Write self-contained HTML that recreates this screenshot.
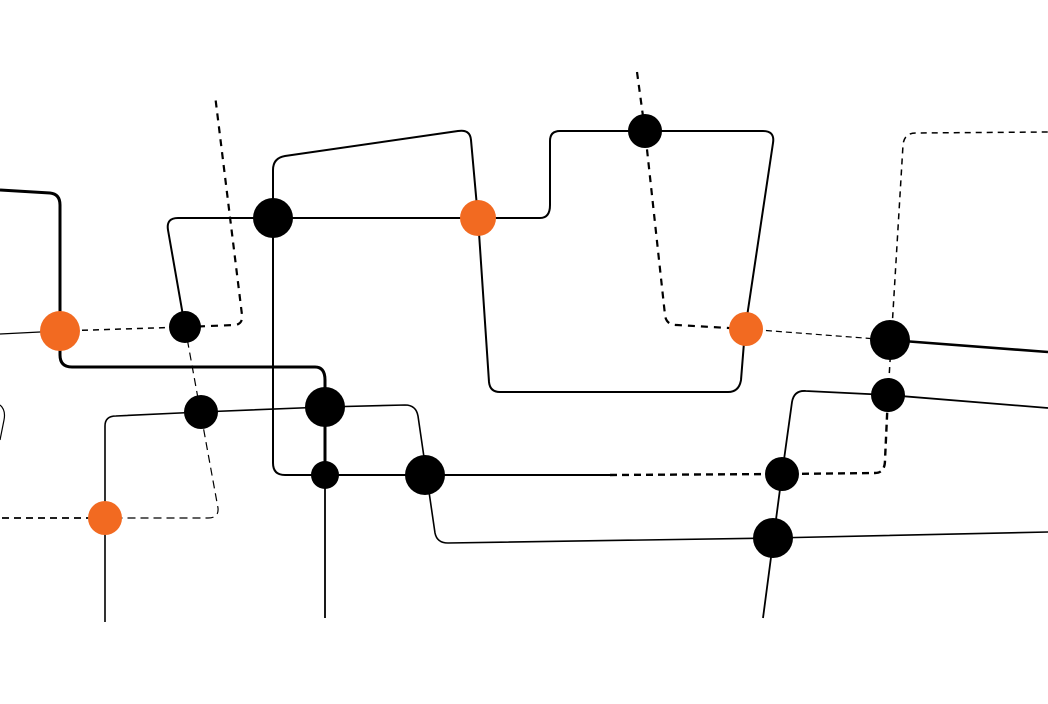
<!DOCTYPE html>
<html><head><style>html,body{margin:0;padding:0;background:#fff}</style></head><body>
<svg width="1048" height="699" viewBox="0 0 1048 699" xmlns="http://www.w3.org/2000/svg" fill="none" stroke="#000" stroke-linejoin="round">
<!-- thick line top-left -->
<path d="M0 190 L50 193 Q60 194 60 205 L60 355 Q60 367 72 367 L315 367 Q325 367 325 380 L325 475" stroke-width="3"/>
<path d="M325 475 L325 618" stroke-width="1.8"/>
<path d="M0 334 L60 331" stroke-width="1.3"/>
<path d="M60 331 L185 327" stroke-width="1.5" stroke-dasharray="6 5"/>
<path d="M185 327 L235 325 Q243 324 242 315 L215 95" stroke-width="2.2" stroke-dasharray="7 6"/>
<!-- big loop -->
<path d="M185 327 L168 230 Q166 218 178 218 L540 218 Q550 218 550 205 L550 141 Q550 131 560 131 L763 131 Q775 131 773 143 L745 330 L741 380 Q739 392 728 392 L500 392 Q490 392 489 382 L478 218 L471 140 Q470 129 458 131 L285 156 Q273 158 273 170 L273 463 Q273 475 285 475 L610 475" stroke-width="2"/>
<path d="M610 475 L782 474 L875 473 Q885 473 885 460 L888 395" stroke-width="2.4" stroke-dasharray="7 5"/>
<path d="M888 395 L903 145 Q904 133 916 133 L1048 132" stroke-width="1.5" stroke-dasharray="6 5"/>
<path d="M185 327 L218 508 Q219 518 208 518 L105 518" stroke-width="1.2" stroke-dasharray="8 5"/>
<path d="M105 518 L0 518" stroke-width="1.8" stroke-dasharray="7 5"/>
<path d="M0 405 Q6 410 4 420 L0 440" stroke-width="1.2"/>
<path d="M105 622 L105 426 Q105 416 116 416 L201 412 L325 407 L405 405 Q416 405 418 416 L435 533 Q437 543 448 543 L773 538 L1048 532" stroke-width="1.6"/>
<path d="M763 618 L782 474 L792 402 Q794 390 806 391 L888 395 L1048 408" stroke-width="1.8"/>
<path d="M637 72 L645 131 L665 315 Q666 325 677 325 L746 329" stroke-width="2.2" stroke-dasharray="7 6"/>
<path d="M746 329 L890 340" stroke-width="1.2" stroke-dasharray="6 4"/>
<path d="M890 340 L1048 352" stroke-width="2.6"/>
<g fill="#000" stroke="none">
<circle cx="273" cy="218" r="20"/><circle cx="645" cy="131" r="17"/><circle cx="185" cy="327" r="16"/>
<circle cx="201" cy="412" r="17"/><circle cx="325" cy="407" r="20"/><circle cx="325" cy="475" r="14"/>
<circle cx="425" cy="475" r="20"/><circle cx="782" cy="474" r="17"/><circle cx="773" cy="538" r="20"/>
<circle cx="890" cy="340" r="20"/><circle cx="888" cy="395" r="17"/>
</g>
<g fill="#f26a21" stroke="none">
<circle cx="60" cy="331" r="20"/><circle cx="478" cy="218" r="18"/><circle cx="746" cy="329" r="17"/><circle cx="105" cy="518" r="17"/>
</g>
</svg>
</body></html>
